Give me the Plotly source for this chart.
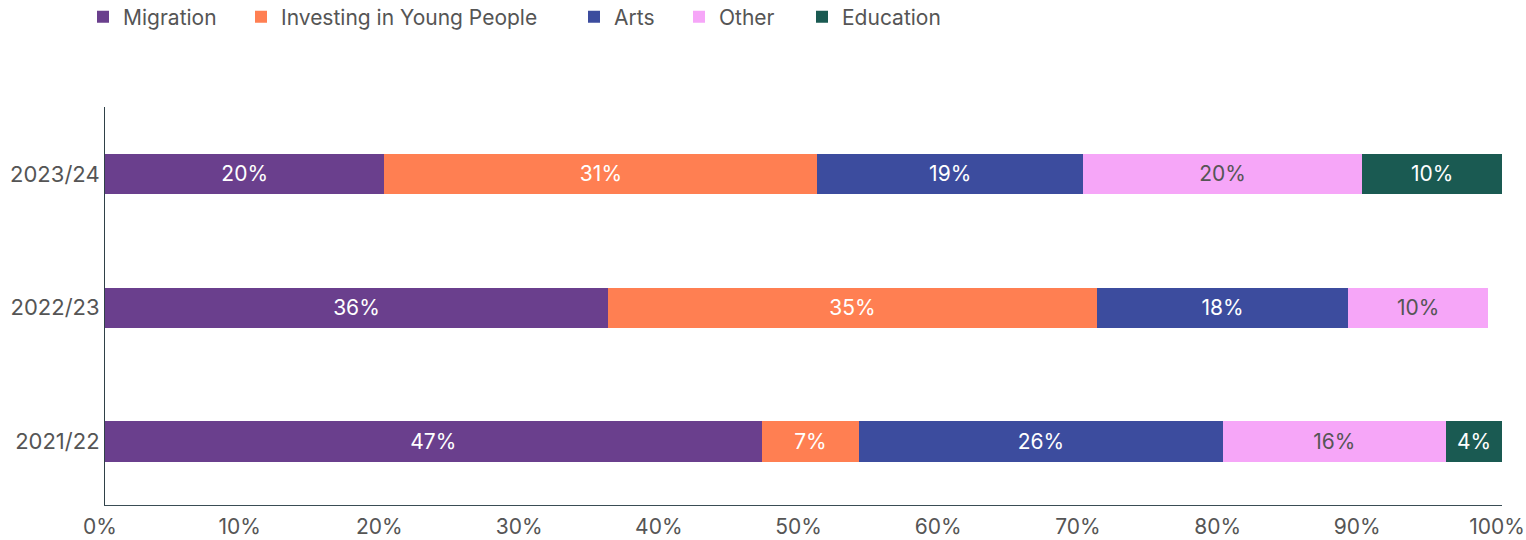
import plotly.graph_objects as go

years = ["2021/22", "2022/23", "2023/24"]
series_names = ["Migration", "Investing in Young People", "Arts", "Other", "Education"]
migration = [47, 36, 20]
investing = [7, 35, 31]
arts = [26, 18, 19]
other = [16, 10, 20]
education = [4, 0, 10]

colors = ["#6a3f8d", "#ff7f52", "#3c4c9e", "#f6a6f8", "#1a5a52"]
text_colors = ["#ffffff", "#ffffff", "#ffffff", "#555555", "#ffffff"]
values = [migration, investing, arts, other, education]

# left edge (px) of each legend entry's text along the top row
legend_text_px = [122, 280, 613, 718, 841]

font_family = "Inter, Roboto, sans-serif"
plot_left, plot_width = 105, 1397
plot_top, plot_height = 107, 398

fig = go.Figure()
legend_layouts = {}
for i, (name, vals, col, tcol) in enumerate(zip(series_names, values, colors, text_colors)):
    key = "legend" if i == 0 else f"legend{i + 1}"
    fig.add_trace(go.Bar(
        y=years,
        x=vals,
        name=name,
        orientation="h",
        marker=dict(color=col, line=dict(width=0)),
        text=[f"{v}%" if v else "" for v in vals],
        textposition="inside",
        insidetextanchor="middle",
        textfont=dict(color=tcol, size=21, family=font_family),
        width=0.3,
        hoverinfo="skip",
        legend=key,
    ))
    legend_layouts[key] = dict(
        orientation="h",
        x=(legend_text_px[i] - 39 - plot_left) / plot_width,
        y=1 + (plot_top - 17) / plot_height,
        xanchor="left",
        yanchor="middle",
        font=dict(size=21, color="#555555", family=font_family),
        itemwidth=30,
        bgcolor="rgba(0,0,0,0)",
    )

fig.update_layout(
    barmode="stack",
    width=1526,
    height=540,
    margin=dict(l=plot_left, r=1526 - plot_left - plot_width, t=plot_top,
                b=540 - plot_top - plot_height, autoexpand=False),
    paper_bgcolor="white",
    plot_bgcolor="white",
    font=dict(family=font_family, color="#555555", size=21),
    uniformtext=dict(mode="show", minsize=21),
    xaxis=dict(
        range=[0, 100],
        tickvals=list(range(0, 101, 10)),
        ticktext=[f"{v}%" for v in range(0, 101, 10)],
        showgrid=False,
        zeroline=False,
        showline=True,
        linecolor="#3a4d55",
        linewidth=1,
        ticks="",
        tickfont=dict(size=21, color="#555555"),
        ticklabelstandoff=3,
        ticklabelshift=-5,
        ticklabeloverflow="allow",
        automargin=False,
        fixedrange=True,
    ),
    yaxis=dict(
        showgrid=False,
        zeroline=False,
        showline=True,
        linecolor="#2f4148",
        linewidth=1,
        ticks="",
        tickfont=dict(size=22, color="#555555"),
        ticklabelstandoff=0,
        automargin=False,
        range=[-0.475, 2.5],
    ),
    showlegend=True,
    **legend_layouts,
)

fig.write_html("out.html")
